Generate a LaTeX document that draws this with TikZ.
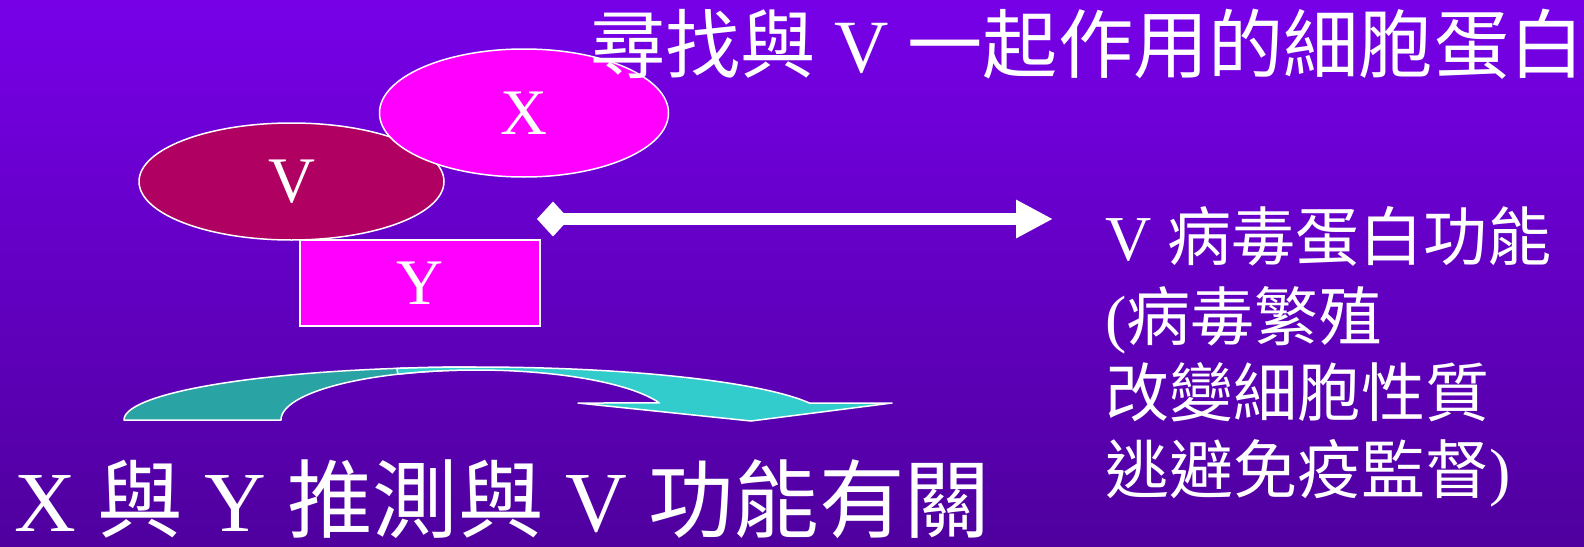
\documentclass[tikz,border=0pt]{standalone}
\usepackage{fontspec}
\setmainfont{Liberation Serif}
\newfontfamily\cjk{Noto Sans CJK TC}
\usetikzlibrary{shapes.geometric,arrows.meta}
\definecolor{bgtop}{HTML}{7700E8}
\definecolor{bgbot}{HTML}{4F009E}
\definecolor{vfill}{HTML}{B00062}
\definecolor{magent}{HTML}{FF00FF}
\definecolor{tealdark}{HTML}{29A3A3}
\definecolor{teallight}{HTML}{33CCCC}
\newcommand\zh[1]{{\cjk #1}}
\tikzset{
  shapebox/.style={draw=white, line width=1.5pt, inner sep=0pt, text=white,
    font=\fontsize{65}{70}\selectfont},
  ovalbox/.style={shapebox, ellipse},
  rectbox/.style={shapebox, rectangle},
  txt/.style={text=white, inner sep=0pt},
  bandedge/.style={draw=white, line width=1.5pt, line join=round},
}
\begin{document}
\begin{tikzpicture}[x=1pt,y=-1pt]
\useasboundingbox (0,0) rectangle (1584,546);
\shade[top color=bgtop, bottom color=bgbot] (0,0) rectangle (1584,546);

% shapes
\node[ovalbox, fill=vfill, minimum width=305pt, minimum height=117pt] (V) at (291.5,181.5) {V};
\node[ovalbox, fill=magent, minimum width=289pt, minimum height=128pt] (X) at (524,113) {X};
\node[rectbox, fill=magent, minimum width=240pt, minimum height=86pt] (Y) at (420,283) {Y};

% title
\node[txt, anchor=base west, font=\fontsize{75.2}{80}\selectfont] (title) at (590,72)
  {\zh{尋找與} V \zh{一起作用的細胞蛋白}};

% diamond-headed arrow
\coordinate (ds) at (537,219);
\coordinate (de) at (1053,219);
\draw[white, line width=12pt, {Diamond[length=32pt,width=35pt]}-{Triangle[length=37pt,width=36pt]}] (ds) -- (de);

% right text block
\begin{scope}[every node/.style={txt, anchor=base west, font=\fontsize{64}{77}\selectfont}]
\node (r1) at (1105,260) {V \zh{病毒蛋白功能}};
\node (r2) at (1105,340) {(\zh{病毒繁殖}};
\node (r3) at (1105,416) {\zh{改變細胞性質}};
\node (r4) at (1105,493) {\zh{逃避免疫監督})};
\end{scope}

% curved arrow (left, darker band)
\filldraw[fill=tealdark, bandedge]
  plot[domain=180:90, samples=60] ({476+352*cos(\x)}, {420-53*sin(\x)})
  -- plot[domain=90:180, samples=60] ({476+195*cos(\x)}, {420-50*sin(\x)})
  -- cycle;
% curved arrow (right, lighter band with head)
\filldraw[fill=teallight, bandedge]
  plot[domain=103:18.7, samples=60] ({476+352*cos(\x)}, {420-53*sin(\x)})
  -- (892,403) -- (751,421) -- (578,403)
  -- plot[domain=19.9:113.6, samples=60] ({476+195*cos(\x)}, {420-50*sin(\x)})
  -- cycle;

% bottom text
\node[txt, anchor=base west, font=\fontsize{85.5}{90}\selectfont] (bottom) at (14,531)
  {X \zh{與} Y \zh{推測與} V \zh{功能有關}};
\end{tikzpicture}
\end{document}
